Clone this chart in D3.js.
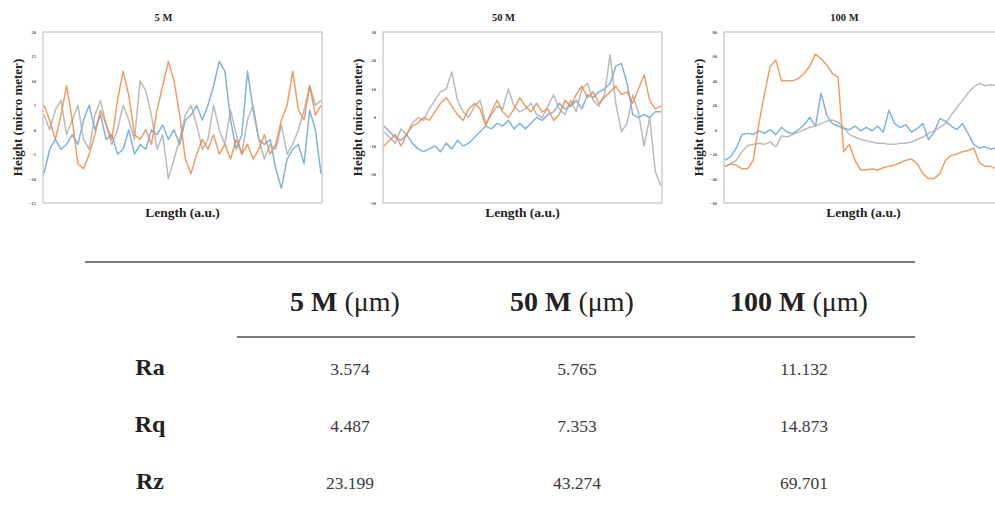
<!DOCTYPE html>
<html lang="en">
  <head>
    <meta charset="UTF-8">
    <title>Surface roughness profiles</title>
    <script src="https://d3js.org/d3.v7.min.js"></script>
    <style>
      * {
        margin: 0;
        padding: 0;
      }
      body {
        background: #fff;
      }
      body > svg {
        display: block;
      }
    </style>
  </head>
  <body>
    <script>
      // panel titles and y ticks
      var panelTitles = ["5 M", "50 M", "100 M"];
      var yDomains = [[-15, 20], [-30, 30], [-60, 80]];
      var yTicks = [
        [20, 15, 10, 5, 0, -5, -10, -15],
        [30, 20, 10, 0, -10, -20, -30],
        [80, 60, 40, 20, 0, -20, -40, -60]
      ];

      // height profiles (micro meter)
      var blue5 = [-9, -4, -2, -4, -3, -1, -3, 2, 5, 0, 3, -2, -1, -5, -4, 0, -5, -3, -4, 0,
        -1, 1, -2, 0, -3, 2, 3, 5, 2, 5, 9, 14, 12, 2, -4, -1, 12, 4, -2, -3,
        -2, -8, -12, -6, -4, -3, -7, 4, 0, -9];
      var orange5 = [5, 2, -2, 3, 9, 2, -7, -8, -5, -1, 4, 1, -2, 6, 12, 7, -1, -2, 0, -3,
        4, 9, 14, 10, 3, -6, -9, -5, -2, -4, -1, -5, -3, -6, -2, -5, -3, -6, -4, -1,
        -5, -3, 2, 5, 12, 4, 2, 9, 3, 5];
      var gray5 = [3, 0, 4, 6, -1, 2, 5, -2, -4, 3, 6, 1, -3, 0, 5, 2, -2, 10, 8, 3,
        -4, -1, -10, -6, -2, 3, 5, 1, -4, -2, 5, 0, -3, 4, -1, -5, 2, 5, -2, -6,
        -3, -4, 1, -5, -3, 0, 4, 9, 5, 6];

      var blue50 = [-3, -5, -7, -8, -6, -9, -11, -12, -11, -10, -12, -9, -11, -8, -10, -9, -7, -5, -3, -4,
        -2, -3, -1, -4, -2, -4, -2, 0, -1, 1, 2, 5, 3, 4, 6, 3, 8, 7, 9, 10,
        12, 18, 19, 12, 1, 0, 1, 0, 2, 2];
      var orange50 = [-10, -8, -6, -10, -6, -3, -2, 0, -1, 2, 5, 7, 4, 1, -1, 3, 5, 3, -3, 2,
        6, 2, 0, 3, 7, 4, 2, 5, 2, 3, -1, 1, 6, 4, 8, 11, 7, 9, 5, 7,
        9, 11, 8, 9, 5, 10, 15, 6, 3, 4];
      var gray50 = [-5, -7, -9, -4, -6, -2, 0, -1, 3, 6, 9, 10, 16, 6, 2, 0, 4, 6, -2, 1,
        4, 3, 10, 4, 2, 3, 5, 1, 0, 4, 8, 3, 1, 6, 2, 10, 12, 6, 4, 8,
        22, 5, -5, -2, 8, 2, -10, 0, -19, -24];

      var blue100 = [-25, -22, -15, -4, -3, -4, -1, -3, 0, -4, 2, -2, -3, 0, 4, 10, 3, 30, 12, 5,
        3, 1, 0, 3, -1, 2, -1, 3, -2, 16, 5, 2, 4, -2, 1, 5, -8, -2, 9, 7,
        3, 0, 5, -3, -12, -15, -14, -16, -15, -15];
      var orange100 = [-30, -28, -29, -32, -32, -25, 5, 30, 52, 57, 40, 40, 40, 42, 46, 52, 62, 58, 53, 46,
        43, -18, -12, -25, -33, -33, -32, -33, -31, -30, -29, -27, -25, -24, -28, -36, -40, -40, -36, -25,
        -21, -20, -18, -17, -15, -27, -30, -30, -32, -32];
      var gray100 = [-30, -28, -25, -18, -13, -12, -11, -12, -10, -14, -5, -6, -4, -2, 0, 2, 3, 5, 7, 8,
        6, 2, -4, -6, -8, -9, -10, -11, -11, -12, -12, -11, -11, -10, -8, -6, -3, -1, 2, 5,
        12, 18, 24, 30, 35, 38, 36, 37, 36, 35];

      // roughness table
      var rowLabels = ["Ra", "Rq", "Rz"];
      var colLabels = ["5 M", "50 M", "100 M"];
      var raValues = [3.574, 5.765, 11.132];
      var rqValues = [4.487, 7.353, 14.873];
      var rzValues = [23.199, 43.274, 69.701];

      var width = 995;
      var height = 509;
      var serif = "'Liberation Serif', 'Times New Roman', serif";

      var svg = d3.select("body").append("svg")
        .attr("width", width)
        .attr("height", height);

      var panels = [
        { title: panelTitles[0], left: 43, domain: yDomains[0], ticks: yTicks[0], series: [blue5, gray5, orange5] },
        { title: panelTitles[1], left: 383, domain: yDomains[1], ticks: yTicks[1], series: [blue50, gray50, orange50] },
        { title: panelTitles[2], left: 724, domain: yDomains[2], ticks: yTicks[2], series: [blue100, gray100, orange100] }
      ];
      var colors = ["#62a0d8", "#aaaaaa", "#ee8540"];
      var plotW = 279, plotTop = 32, plotH = 171;

      panels.forEach(function (p) {
        var g = svg.append("g").attr("transform", "translate(" + p.left + "," + plotTop + ")");

        var x = d3.scaleLinear().domain([0, p.series[0].length - 1]).range([1, plotW - 1]);
        var y = d3.scaleLinear().domain(p.domain).range([plotH, 0]);

        g.append("rect")
          .attr("width", plotW)
          .attr("height", plotH)
          .attr("fill", "none")
          .attr("stroke", "#c4c4c4")
          .attr("stroke-width", 1.2);

        var yAxis = g.append("g")
          .call(d3.axisLeft(y).tickValues(p.ticks).tickSize(0).tickPadding(7));
        yAxis.select(".domain").remove();
        yAxis.selectAll("text")
          .attr("font-family", serif)
          .attr("font-size", 4.5)
          .attr("font-weight", "bold")
          .attr("fill", "#555");

        var line = d3.line()
          .x(function (d, i) { return x(i); })
          .y(function (d) { return y(d); });

        p.series.forEach(function (s, k) {
          g.append("path")
            .datum(s)
            .attr("d", line)
            .attr("fill", "none")
            .attr("stroke", colors[k])
            .attr("stroke-width", 1.5)
            .attr("stroke-opacity", 0.8)
            .attr("stroke-linejoin", "round");
        });

        g.append("text")
          .attr("x", plotW / 2 - 19)
          .attr("y", -11)
          .attr("text-anchor", "middle")
          .attr("font-family", serif)
          .attr("font-weight", "bold")
          .attr("font-size", 10.5)
          .attr("fill", "#222")
          .text(p.title);

        g.append("text")
          .attr("x", plotW / 2)
          .attr("y", plotH + 14)
          .attr("text-anchor", "middle")
          .attr("font-family", serif)
          .attr("font-weight", "bold")
          .attr("font-size", 13.5)
          .attr("fill", "#222")
          .text("Length (a.u.)");

        g.append("text")
          .attr("transform", "translate(-21," + (plotH / 2) + ") rotate(-90)")
          .attr("text-anchor", "middle")
          .attr("font-family", serif)
          .attr("font-weight", "bold")
          .attr("font-size", 13)
          .attr("fill", "#222")
          .text("Height  (micro meter)");
      });

      // table
      var col = d3.scalePoint().domain(colLabels).range([350, 804]);
      var row = d3.scalePoint().domain(rowLabels).range([375, 489]);
      var rows = [raValues, rqValues, rzValues];

      svg.append("line")
        .attr("x1", 85).attr("x2", 915)
        .attr("y1", 262).attr("y2", 262)
        .attr("stroke", "#7a7a7a").attr("stroke-width", 2);
      svg.append("line")
        .attr("x1", 237).attr("x2", 915)
        .attr("y1", 337).attr("y2", 337)
        .attr("stroke", "#7a7a7a").attr("stroke-width", 2);

      colLabels.forEach(function (c) {
        var t = svg.append("text")
          .attr("x", col(c) - 5)
          .attr("y", 311)
          .attr("text-anchor", "middle")
          .attr("font-family", serif)
          .attr("font-size", 28)
          .attr("fill", "#222");
        t.append("tspan").attr("font-weight", "bold").text(c + " ");
        t.append("tspan").text("(\u03bcm)");
      });

      rowLabels.forEach(function (r, i) {
        svg.append("text")
          .attr("x", 150)
          .attr("y", row(r))
          .attr("text-anchor", "middle")
          .attr("font-family", serif)
          .attr("font-weight", "bold")
          .attr("font-size", 24)
          .attr("fill", "#222")
          .text(r);

        rows[i].forEach(function (v, j) {
          svg.append("text")
            .attr("x", col(colLabels[j]))
            .attr("y", row(r))
            .attr("text-anchor", "middle")
            .attr("font-family", serif)
            .attr("font-size", 17.5)
            .attr("fill", "#3a3a3a")
            .text(v.toFixed(3));
        });
      });
    </script>
  </body>
</html>
